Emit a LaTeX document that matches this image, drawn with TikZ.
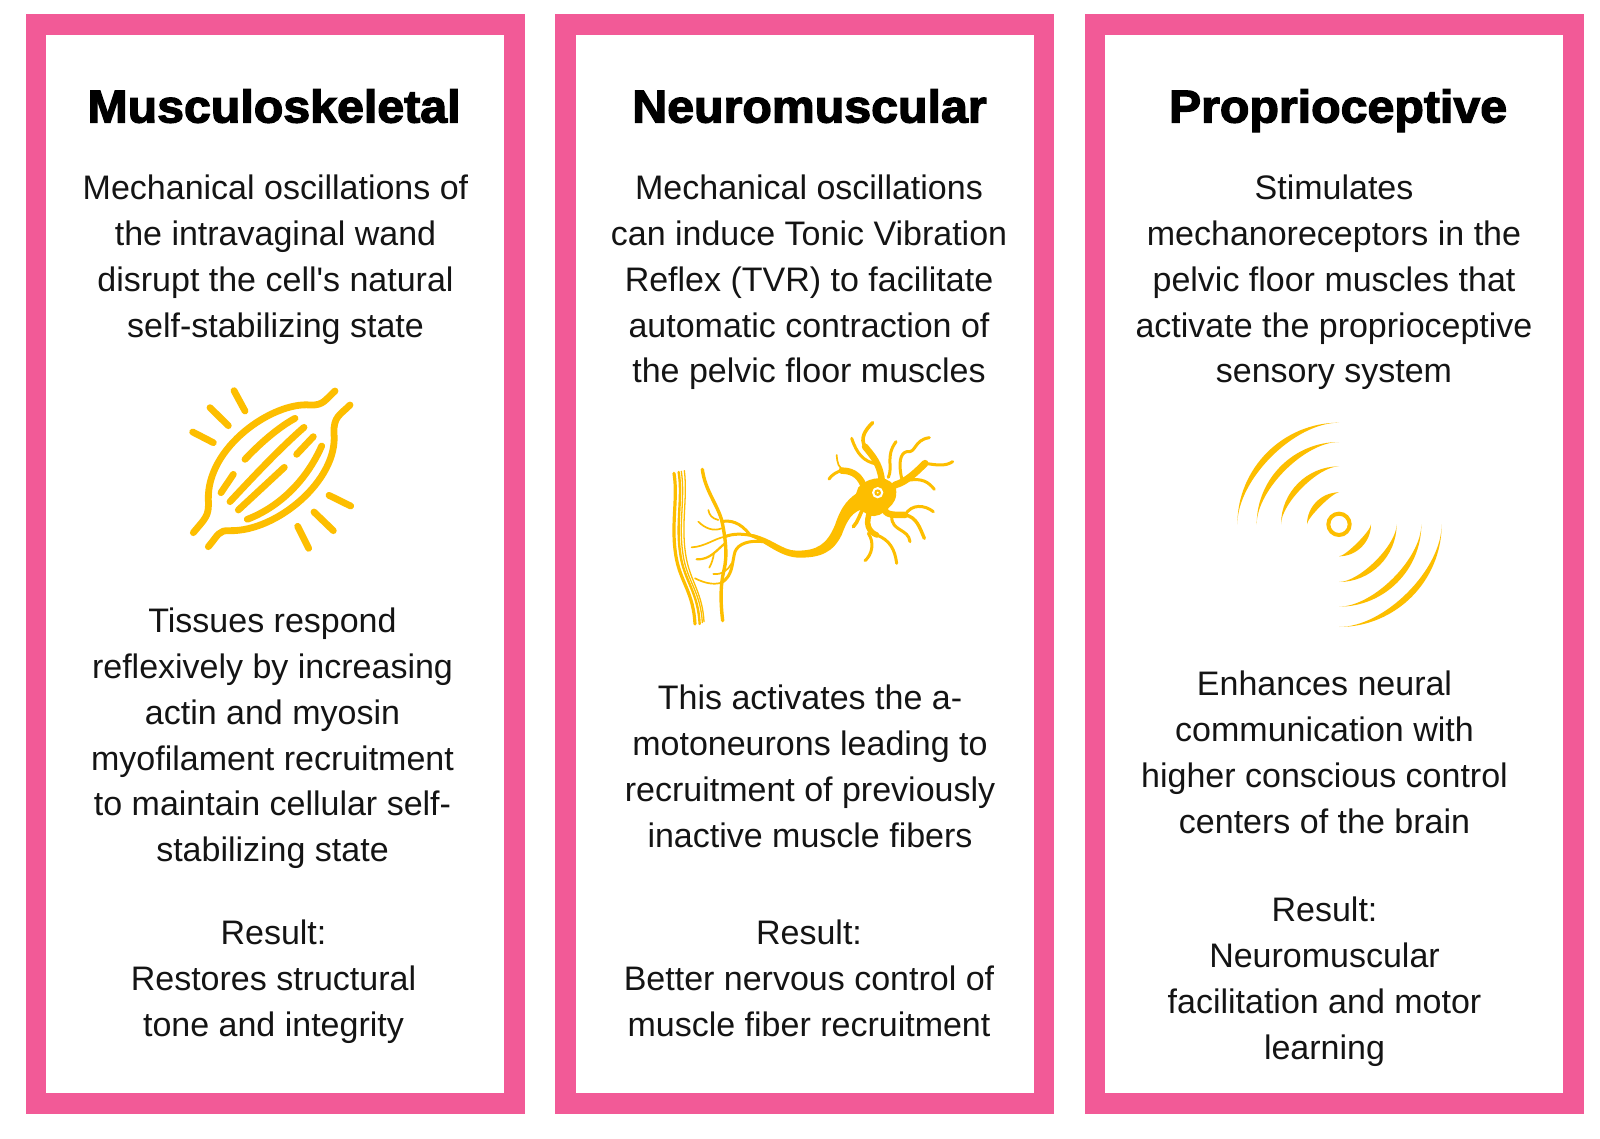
\documentclass[tikz,border=0pt]{standalone}
\usepackage{fontspec}
\setmainfont[Ligatures=TeXOff]{Liberation Sans}
\newfontfamily\titlefont[FakeBold=2.8,FakeStretch=1.05]{Liberation Sans Bold}
\definecolor{framepink}{HTML}{F25A97}
\definecolor{gold}{HTML}{FDBE00}
\tikzset{
  x=1pt,y=-1pt,
  frame/.style={draw=framepink,line width=20.5pt,fill=white,miter limit=10},
  heading/.style={font=\titlefont\fontsize{46}{50}\selectfont,inner sep=0pt,text=black,anchor=base},
  para/.style={font=\fontsize{34}{45.9}\selectfont,align=center,inner sep=0pt,anchor=north,text=black!92},
  stroke/.style={draw=gold,line width=6.8pt,line cap=round,line join=round},
  dthick/.style={draw=gold,line width=5.5pt,line cap=round,line join=round},
  dmid/.style={draw=gold,line width=3pt,line cap=round,line join=round},
  dthin/.style={draw=gold,line width=1.7pt,line cap=round,line join=round},
}
\newcommand{\crescent}[3]{%
  \pgfmathsetmacro{\rr}{#1}%
  \pgfmathsetmacro{\ka}{0.5523*\rr}%
  \pgfmathsetmacro{\kb}{(0.5523-34/\rr)*\rr}%
  \fill[gold] ({387+#2*\rr},373) .. controls ({387+#2*\rr},{373+#3*\ka}) and ({387+#2*\ka},{373+#3*\rr}) .. (387,{373+#3*\rr})
     .. controls ({387+#2*\kb},{373+#3*\rr}) and ({387+#2*\rr},{373+#3*\kb}) .. cycle;}
\begin{document}
\begin{tikzpicture}
\useasboundingbox (0,0) rectangle (1600,1139);
\fill[white] (0,0) rectangle (1600,1139);
% frames
\draw[frame] (36,24.5) rectangle (514.5,1103.5);
\draw[frame] (565.5,24.5) rectangle (1044,1103.5);
\draw[frame] (1095,24.5) rectangle (1573.5,1103.5);
% titles
\node[heading] (t1) at (274,122.5) {Musculoskeletal};
\node[heading] (t2) at (809.5,122.5) {Neuromuscular};
\node[heading] (t3) at (1338,122.5) {Proprioceptive};
% first paragraphs
\node[para] (a1) at (275.5,167) {\strut Mechanical oscillations of\\the intravaginal wand\\disrupt the cell's natural\\self-stabilizing state};
\node[para] (a2) at (809,167) {\strut Mechanical oscillations\\can induce Tonic Vibration\\Reflex (TVR) to facilitate\\automatic contraction of\\the pelvic floor muscles};
\node[para] (a3) at (1334,167) {\strut Stimulates\\mechanoreceptors in the\\pelvic floor muscles that\\activate the proprioceptive\\sensory system};
% second paragraphs
\node[para] (b1) at (272.5,600) {\strut Tissues respond\\reflexively by increasing\\actin and myosin\\myofilament recruitment\\to maintain cellular self-\\stabilizing state};
\node[para] (b2) at (810,677) {\strut This activates the a-\\motoneurons leading to\\recruitment of previously\\inactive muscle fibers};
\node[para] (b3) at (1324.5,663) {\strut Enhances neural\\communication with\\higher conscious control\\centers of the brain};
% results
\node[para] (c1) at (273.5,912) {\strut Result:\\Restores structural\\tone and integrity};
\node[para] (c2) at (809,912) {\strut Result:\\Better nervous control of\\muscle fiber recruitment};
\node[para] (c3) at (1324.5,889) {\strut Result:\\Neuromuscular\\facilitation and motor\\learning};
% muscle icon
\begin{scope}[xshift=150pt,yshift=-360pt,scale=1/3]
\draw[stroke] (555,93) .. controls (525,120) and (520,137) .. (480,135) .. controls (370,125) and (170,260) .. (175,420) .. controls (178,470) and (165,475) .. (130,518);
\draw[stroke] (600,135) .. controls (570,165) and (550,170) .. (552,220) .. controls (565,360) and (380,515) .. (240,512) .. controls (205,510) and (205,525) .. (175,560);
\draw[stroke] (285,298) .. controls (340,240) and (390,200) .. (435,175);
\draw[stroke] (240,425) .. controls (310,350) and (390,265) .. (462,202);
\draw[stroke] (213,398) -- (250,343);
\draw[stroke] (440,283) -- (490,230);
\draw[stroke] (265,450) -- (403,322);
\draw[stroke] (292,478) .. controls (390,440) and (470,360) .. (515,258);
\draw[stroke] (128,216) -- (190,248);
\draw[stroke] (180,143) -- (235,197);
\draw[stroke] (252,92) -- (285,153);
\draw[stroke] (537,406) -- (602,438);
\draw[stroke] (492,456) -- (550,512);
\draw[stroke] (443,499) -- (476,565);
\end{scope}
% neuron icon
\begin{scope}[xshift=650pt,yshift=-400pt,scale=1/3]
% muscle strands
\draw[dmid,line width=3.2pt] (72,220) .. controls (85,300) and (60,380) .. (80,480) .. controls (95,550) and (130,580) .. (135,672);
\draw[dmid,line width=2.4pt] (86,216) .. controls (99,300) and (74,380) .. (94,480) .. controls (109,550) and (144,580) .. (149,672);
\draw[dthin,line width=1.3pt] (94,214) .. controls (107,300) and (82,380) .. (102,480) .. controls (117,550) and (152,580) .. (157,668);
\draw[dthin,line width=1.3pt] (103,212) .. controls (114,300) and (90,380) .. (110,480) .. controls (125,550) and (157,580) .. (162,665);
% nerve
\draw[dmid,line width=3.4pt] (157,208) .. controls (165,270) and (200,310) .. (215,360) .. controls (228,420) and (232,470) .. (222,510) .. controls (210,560) and (212,610) .. (218,662);
% axon
\fill[gold] (635,270) .. controls (595,295) and (575,315) .. (555,375) .. controls (530,435) and (500,452) .. (440,452) .. controls (395,452) and (365,412) .. (300,401)
  -- (300,410) .. controls (350,428) and (390,473) .. (450,473) .. controls (515,473) and (550,455) .. (575,405) .. controls (590,365) and (605,330) .. (650,325) -- cycle;
% soma
\fill[gold] (625,262) .. controls (650,240) and (665,235) .. (690,235) .. controls (715,235) and (730,250) .. (738,265) .. controls (742,295) and (732,310) .. (715,325)
  .. controls (700,340) and (680,355) .. (655,345) .. controls (640,335) and (625,325) .. (605,318) -- cycle;
\fill[white] (683,278) circle[radius=17];
\fill[gold] (683,278) circle[radius=10];
\fill[white] (683,278) circle[radius=3];
% dendrites
\draw[dthick,line width=6.5pt] (695,240) .. controls (690,190) and (665,165) .. (645,140);
\draw[dmid,line width=3.6pt] (645,140) .. controls (630,115) and (645,90) .. (668,68);
\draw[dmid] (680,192) .. controls (640,185) and (620,160) .. (605,115);
\draw[dmid] (715,232) .. controls (730,200) and (705,170) .. (738,125);
\draw[dthick,line width=7pt] (735,255) .. controls (770,245) and (800,215) .. (825,190);
\draw[dmid] (825,190) .. controls (860,195) and (885,200) .. (908,185);
\draw[dmid] (755,235) .. controls (745,190) and (750,160) .. (770,155) .. controls (800,160) and (790,120) .. (838,113);
\draw[dmid] (780,240) .. controls (815,235) and (835,245) .. (853,268);
\draw[dthick,line width=6.5pt] (640,255) .. controls (625,220) and (600,212) .. (575,212);
\draw[dmid] (575,212) .. controls (560,215) and (545,225) .. (537,237);
\draw[dthin] (585,210) .. controls (565,205) and (562,190) .. (560,165);
\draw[dthick,line width=6.5pt] (705,320) .. controls (700,345) and (725,345) .. (765,345);
\draw[dmid,line width=3.4pt] (765,345) .. controls (800,350) and (810,385) .. (823,415);
\draw[dmid] (725,350) .. controls (725,395) and (775,385) .. (780,425);
\draw[dmid] (765,345) .. controls (785,310) and (825,315) .. (850,335);
\draw[dthick] (660,335) .. controls (645,370) and (655,395) .. (680,405);
\draw[dmid] (680,405) .. controls (720,420) and (735,450) .. (740,490);
\draw[dmid] (655,400) .. controls (675,430) and (665,465) .. (645,482);
\draw[dmid,line width=3.6pt] (640,325) .. controls (630,340) and (625,365) .. (610,380);
% terminal branches
\draw[dmid] (300,405) .. controls (270,365) and (240,360) .. (215,365);
\draw[dmid] (320,410) .. controls (280,400) and (250,400) .. (225,410);
\draw[dthin] (225,410) .. controls (195,415) and (165,440) .. (125,442);
\draw[dmid] (340,425) .. controls (300,420) and (265,430) .. (255,455) .. controls (245,490) and (250,525) .. (215,548);
\draw[dthin] (215,548) .. controls (190,555) and (165,550) .. (135,535);
\draw[dthin] (215,385) .. controls (190,395) and (165,385) .. (145,365);
\draw[dthin] (205,360) .. controls (185,355) and (178,345) .. (175,330);
\draw[dmid,line width=2.2pt] (225,430) .. controls (200,450) and (180,480) .. (140,478);
\draw[dthin] (192,458) .. controls (190,475) and (185,490) .. (178,503);
\draw[dthin] (245,490) .. controls (235,510) and (215,525) .. (190,522);
\end{scope}
% signal icon
\begin{scope}[xshift=1210pt,yshift=-400pt,scale=1/3]
\draw[gold,line width=4pt] (387,373) circle[radius=32];
\crescent{96}{-1}{-1}
\crescent{174}{-1}{-1}
\crescent{247}{-1}{-1}
\crescent{305}{-1}{-1}
\crescent{96}{1}{1}
\crescent{173}{1}{1}
\crescent{247}{1}{1}
\crescent{308}{1}{1}
\end{scope}
\end{tikzpicture}
\end{document}
